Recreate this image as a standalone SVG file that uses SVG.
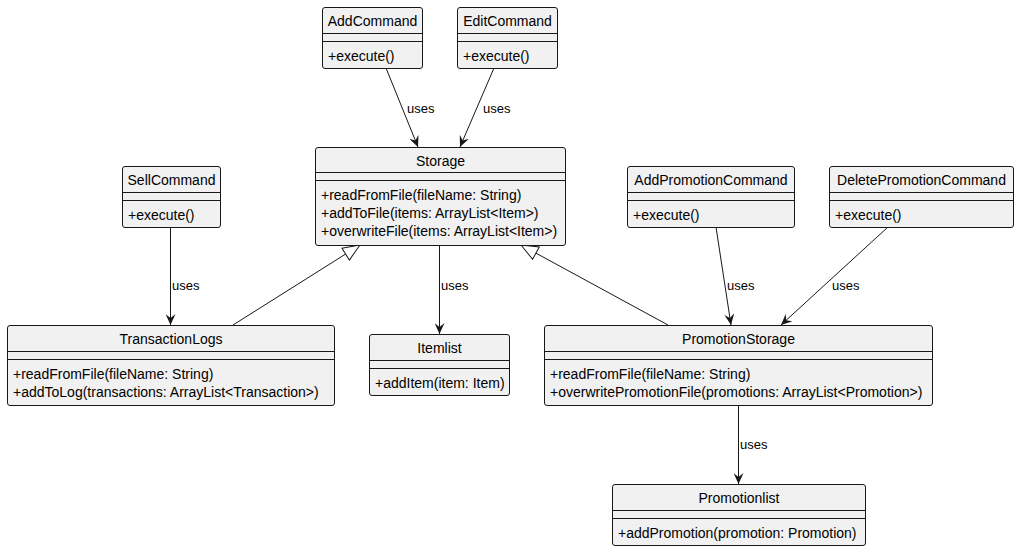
<svg xmlns="http://www.w3.org/2000/svg" width="1019" height="551" viewBox="0 0 1019 551">
<style>
.box{fill:#F1F1F1;stroke:#181818;stroke-width:1}
.sep{stroke:#181818;stroke-width:1}
.name{font-family:"Liberation Sans",Arial,sans-serif;font-size:14px;fill:#000;text-anchor:middle}
.mem{font-family:"Liberation Sans",Arial,sans-serif;font-size:14px;fill:#000}
.lbl{font-family:"Liberation Sans",Arial,sans-serif;font-size:13px;fill:#000}
.edge{stroke:#181818;stroke-width:1;fill:none}
.use{marker-end:url(#arrow)}
.inh{marker-end:url(#tri)}
</style>
<defs>
<marker id="arrow" markerUnits="userSpaceOnUse" viewBox="0 0 11 10" refX="11" refY="5" markerWidth="11" markerHeight="10" orient="auto">
<path d="M0,0 L11,5 L0,10 L4,5 Z" fill="#181818"/>
</marker>
<marker id="tri" markerUnits="userSpaceOnUse" viewBox="0 0 19 16" refX="18" refY="8" markerWidth="19" markerHeight="16" orient="auto">
<path d="M1,1 L18,8 L1,15 Z" fill="#FFFFFF" stroke="#181818" stroke-width="1"/>
</marker>
</defs>
<rect width="1019" height="551" fill="#FFFFFF"/>
<g id="connectors">
<line class="edge use" x1="386" y1="68" x2="418" y2="147"/>
<text class="lbl" x="407" y="113">uses</text>
<line class="edge use" x1="494" y1="68" x2="460" y2="147"/>
<text class="lbl" x="483" y="113">uses</text>
<line class="edge use" x1="170.5" y1="227" x2="170.5" y2="325"/>
<text class="lbl" x="172" y="290">uses</text>
<line class="edge use" x1="439.5" y1="245" x2="439.5" y2="334"/>
<text class="lbl" x="441" y="290">uses</text>
<line class="edge inh" x1="233" y1="325" x2="360" y2="245"/>
<line class="edge inh" x1="668" y1="325" x2="521" y2="245"/>
<line class="edge use" x1="716" y1="227" x2="731" y2="325"/>
<text class="lbl" x="727" y="290">uses</text>
<line class="edge use" x1="888" y1="227" x2="781" y2="325"/>
<text class="lbl" x="832" y="290">uses</text>
<line class="edge use" x1="738.5" y1="405" x2="738.5" y2="484"/>
<text class="lbl" x="740" y="449">uses</text>
</g>
<g id="AddCommand">
<rect class="box" x="322.5" y="7.5" width="100" height="61" rx="2.5"/>
<line class="sep" x1="322.5" y1="33.5" x2="422.5" y2="33.5"/>
<line class="sep" x1="322.5" y1="41.5" x2="422.5" y2="41.5"/>
<text class="name" x="372.5" y="26">AddCommand</text>
<text class="mem" x="328" y="61">+execute()</text>
</g>
<g id="EditCommand">
<rect class="box" x="457.5" y="7.5" width="100" height="61" rx="2.5"/>
<line class="sep" x1="457.5" y1="33.5" x2="557.5" y2="33.5"/>
<line class="sep" x1="457.5" y1="41.5" x2="557.5" y2="41.5"/>
<text class="name" x="507.5" y="26">EditCommand</text>
<text class="mem" x="463" y="61">+execute()</text>
</g>
<g id="Storage">
<rect class="box" x="315.5" y="147.5" width="250" height="98" rx="2.5"/>
<line class="sep" x1="315.5" y1="172.5" x2="565.5" y2="172.5"/>
<line class="sep" x1="315.5" y1="180.5" x2="565.5" y2="180.5"/>
<text class="name" x="440.5" y="166">Storage</text>
<text class="mem" x="321" y="200">+readFromFile(fileName: String)</text>
<text class="mem" x="321" y="218">+addToFile(items: ArrayList&lt;Item&gt;)</text>
<text class="mem" x="321" y="236">+overwriteFile(items: ArrayList&lt;Item&gt;)</text>
</g>
<g id="SellCommand">
<rect class="box" x="122.5" y="166.5" width="98" height="61" rx="2.5"/>
<line class="sep" x1="122.5" y1="192.5" x2="220.5" y2="192.5"/>
<line class="sep" x1="122.5" y1="200.5" x2="220.5" y2="200.5"/>
<text class="name" x="171.5" y="185">SellCommand</text>
<text class="mem" x="128" y="220">+execute()</text>
</g>
<g id="TransactionLogs">
<rect class="box" x="7.5" y="325.5" width="327" height="80" rx="2.5"/>
<line class="sep" x1="7.5" y1="351.5" x2="334.5" y2="351.5"/>
<line class="sep" x1="7.5" y1="359.5" x2="334.5" y2="359.5"/>
<text class="name" x="171" y="344">TransactionLogs</text>
<text class="mem" x="13" y="379">+readFromFile(fileName: String)</text>
<text class="mem" x="13" y="397">+addToLog(transactions: ArrayList&lt;Transaction&gt;)</text>
</g>
<g id="Itemlist">
<rect class="box" x="369.5" y="334.5" width="140" height="61" rx="2.5"/>
<line class="sep" x1="369.5" y1="360.5" x2="509.5" y2="360.5"/>
<line class="sep" x1="369.5" y1="368.5" x2="509.5" y2="368.5"/>
<text class="name" x="439.5" y="353">Itemlist</text>
<text class="mem" x="375" y="388">+addItem(item: Item)</text>
</g>
<g id="AddPromotionCommand">
<rect class="box" x="627.5" y="166.5" width="167" height="61" rx="2.5"/>
<line class="sep" x1="627.5" y1="192.5" x2="794.5" y2="192.5"/>
<line class="sep" x1="627.5" y1="200.5" x2="794.5" y2="200.5"/>
<text class="name" x="711" y="185">AddPromotionCommand</text>
<text class="mem" x="633" y="220">+execute()</text>
</g>
<g id="DeletePromotionCommand">
<rect class="box" x="829.5" y="166.5" width="184" height="61" rx="2.5"/>
<line class="sep" x1="829.5" y1="192.5" x2="1013.5" y2="192.5"/>
<line class="sep" x1="829.5" y1="200.5" x2="1013.5" y2="200.5"/>
<text class="name" x="921.5" y="185">DeletePromotionCommand</text>
<text class="mem" x="835" y="220">+execute()</text>
</g>
<g id="PromotionStorage">
<rect class="box" x="544.5" y="325.5" width="388" height="80" rx="2.5"/>
<line class="sep" x1="544.5" y1="351.5" x2="932.5" y2="351.5"/>
<line class="sep" x1="544.5" y1="359.5" x2="932.5" y2="359.5"/>
<text class="name" x="738.5" y="344">PromotionStorage</text>
<text class="mem" x="550" y="379">+readFromFile(fileName: String)</text>
<text class="mem" x="550" y="397">+overwritePromotionFile(promotions: ArrayList&lt;Promotion&gt;)</text>
</g>
<g id="Promotionlist">
<rect class="box" x="612.5" y="484.5" width="253" height="61" rx="2.5"/>
<line class="sep" x1="612.5" y1="510.5" x2="865.5" y2="510.5"/>
<line class="sep" x1="612.5" y1="518.5" x2="865.5" y2="518.5"/>
<text class="name" x="739" y="503">Promotionlist</text>
<text class="mem" x="618" y="538">+addPromotion(promotion: Promotion)</text>
</g>
</svg>
